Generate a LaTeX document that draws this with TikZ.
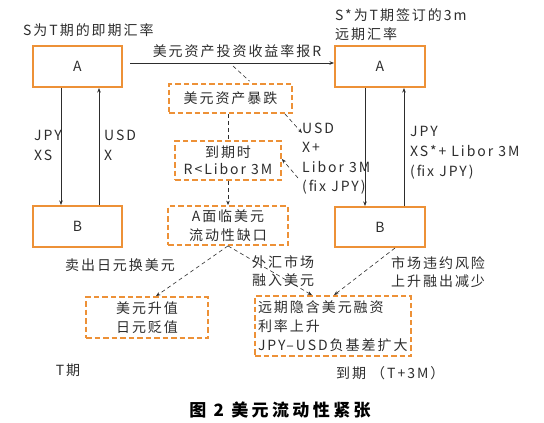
\documentclass[tikz,border=0pt]{standalone}
\usepackage{fontspec}
\setmainfont{Noto Sans CJK SC}[LetterSpace=14]
\usetikzlibrary{arrows.meta, positioning, calc}

\definecolor{boxorange}{RGB}{237,145,55}
\definecolor{inkgray}{RGB}{45,45,45}

\tikzset{
  solidbox/.style={draw=boxorange, line width=2pt, minimum width=89pt, minimum height=41pt, inner sep=0pt},
  dashbox/.style={draw=boxorange, line width=1.8pt, dash pattern=on 5.5pt off 3pt, inner sep=0pt},
  flow/.style={draw=inkgray, line width=0.6pt, -{Stealth[length=4.5pt,width=3.5pt]}},
  dflow/.style={flow, dash pattern=on 4pt off 3pt},
  dline/.style={draw=inkgray, line width=0.6pt, dash pattern=on 4pt off 3pt}
}

\begin{document}
\begin{tikzpicture}[x=1pt, y=-1pt, inner sep=1pt, text=inkgray,
    font=\fontsize{14}{19.5}\selectfont]
  \useasboundingbox (0,0) rectangle (544,423);

  % A and B at T and at maturity
  \node[solidbox] (aT) at (77.5,66.5) {A};
  \node[solidbox] (bT) at (77.5,226.5) {B};
  \node[solidbox, minimum width=90pt] (aM) at (380,66.5) {A};
  \node[solidbox, minimum width=90pt, minimum height=40pt] (bM) at (380,227) {B};

  % dashed boxes
  \node[dashbox, minimum width=123pt, minimum height=29pt] (crash) at (230.5,98.5) {美元资产暴跌};
  \node[dashbox, minimum width=106pt, minimum height=39pt, align=center,
        font=\fontsize{14}{17}\selectfont] (mature) at (228,160.5) {到期时\\R<Libor 3M};
  \node[dashbox, minimum width=120pt, minimum height=39pt, align=center] (gap) at (228,225.5) {A面临美元\\流动性缺口};
  \node[dashbox, minimum width=122pt, minimum height=41pt, align=center] (usdup) at (147,317.5) {美元升值\\日元贬值};
  \node[dashbox, minimum width=156pt, minimum height=60pt, align=left, text width=150pt,
        font=\fontsize{14}{19}\selectfont] (fwd) at (333,326) {远期隐含美元融资\\利率上升\\JPY–USD负基差扩大};

  % swaps between A and B
  \draw[flow] ([xshift=-16.5pt]aT.south) -- ([xshift=-16.5pt]bT.north);
  \draw[flow] ([xshift=21.5pt]bT.north) -- ([xshift=21.5pt]aT.south);
  \draw[flow] ([xshift=-15pt]aM.south) -- ([xshift=-15pt]bM.north);
  \draw[flow] ([xshift=24pt]bM.north) -- ([xshift=24pt]aM.south);
  \draw[flow] ([xshift=7pt,yshift=3.5pt]aT.east) -- ([yshift=3.5pt]aM.west);

  % dashed chain
  \coordinate (tap) at (233,66);
  \coordinate (fixtop) at (302,133);
  \coordinate (fixbot) at (298,178);
  \draw[dline] (tap) -- ([xshift=19pt,yshift=2pt]crash.north);
  \draw[dline] (crash.south -| mature.north) -- (mature.north);
  \draw[dflow] (mature.south) -- (gap.north);
  \draw[dflow] ([xshift=-8pt]crash.south east) -- (fixtop);
  \draw[dflow] (fixbot) -- ([yshift=1.5pt]mature.east);
  \draw[dflow] (gap.south) -- ([xshift=9pt]usdup.north);
  \draw[dflow] (gap.south) -- ([xshift=-21pt]fwd.north);
  \draw[dflow] ([xshift=15pt]bM.south) -- ([xshift=1pt]fwd.north);

  % labels
  \node (rlabel) at (237,51) {美元资产投资收益率报R};
  \node[anchor=west] (spot) at (22,30) {S为T期的即期汇率};
  \node[anchor=west, align=left, font=\fontsize{14}{19}\selectfont] (fwdrate) at (334,24.5) {S*为T期签订的3m\\远期汇率};
  \node[anchor=west, align=left, font=\fontsize{14}{20}\selectfont] (legAl) at (33,145) {JPY\\XS};
  \node[anchor=west, align=left, font=\fontsize{14}{20}\selectfont] (legAr) at (103,145) {USD\\X};
  \node[anchor=west, align=left, font=\fontsize{14}{20}\selectfont] (legMr) at (409,153) {JPY\\XS*+ Libor 3M\\(fix JPY)};
  \node[anchor=west, align=left] (legMl) at (301,158.5) {USD\\X+\\Libor 3M\\(fix JPY)};
  \node (sell) at (120,265) {卖出日元换美元};
  \node[anchor=west, align=left, font=\fontsize{14}{18}\selectfont] (fxin) at (251,271) {外汇市场\\融入美元};
  \node[anchor=west, align=left, font=\fontsize{14}{18}\selectfont] (default) at (390,272) {市场违约风险\\上升融出减少};
  \node (tlbl) at (68,370) {T期};
  \node[anchor=west] (mlbl) at (335,373) {到期 （T+3M）};
  \node[text=black, font=\fontsize{17}{19}\selectfont\bfseries\addfontfeature{LetterSpace=20}] (caption) at (280,410) {图 2 美元流动性紧张};
\end{tikzpicture}
\end{document}
